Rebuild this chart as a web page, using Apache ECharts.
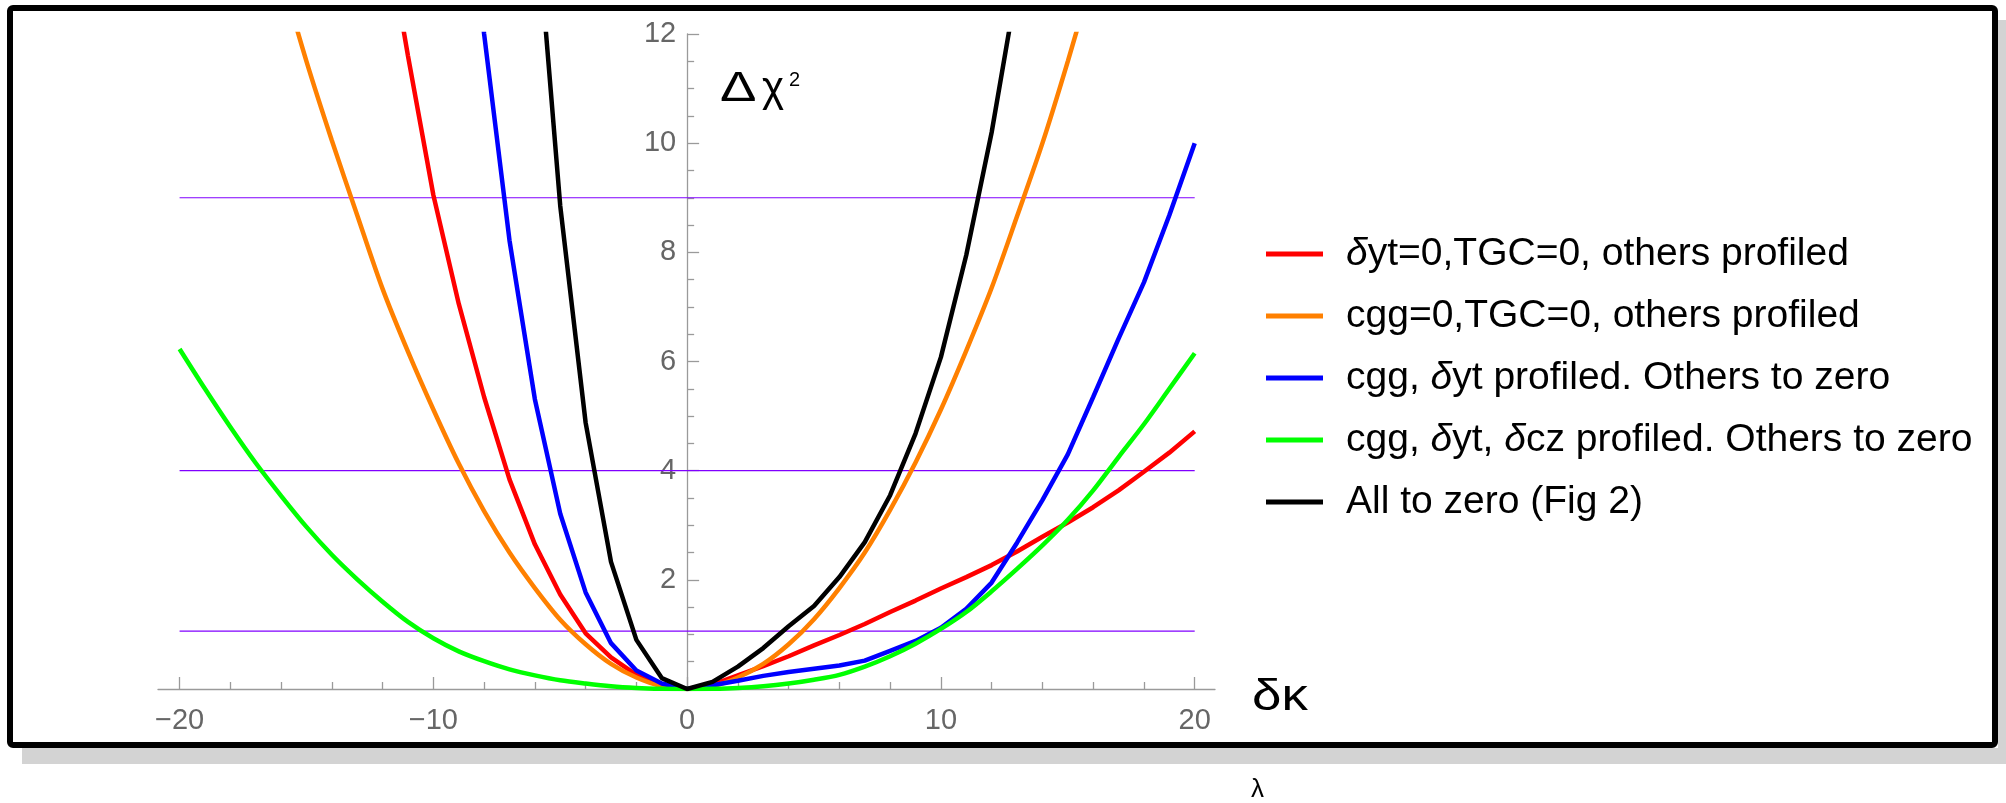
<!DOCTYPE html>
<html>
<head>
<meta charset="utf-8">
<script src="https://cdn.jsdelivr.net/npm/echarts@6/dist/echarts.min.js"></script>
<style>
  html, body { margin: 0; padding: 0; background: #fff; }
  #chart { width: 2006px; height: 803px; }
</style>
</head>
<body>
<div id="chart"></div>
<script>
// Δχ² profiles versus δκ
const seriesNames = [
    'δyt=0,TGC=0, others profiled',
    'cgg=0,TGC=0, others profiled',
    'cgg, δyt profiled. Others to zero',
    'cgg, δyt, δcz profiled. Others to zero',
    'All to zero (Fig 2)'
];
const seriesColors = ['#ff0000', '#ff8000', '#0000ff', '#00ff00', '#000000'];

const redX = [-12, -11, -10, -9, -8, -7, -6, -5, -4, -3, -2, -1, 0, 1, 2, 3, 4, 5, 6, 7, 8, 9, 10, 11, 12, 13, 14, 15, 16, 17, 18, 19, 20];
const redY = [14.3, 11.6, 9.05, 7.06, 5.35, 3.84, 2.65, 1.73, 1.02, 0.58, 0.26, 0.08, 0, 0.08, 0.25, 0.42, 0.6, 0.8, 0.99, 1.19, 1.41, 1.62, 1.84, 2.05, 2.27, 2.52, 2.79, 3.05, 3.33, 3.64, 3.98, 4.33, 4.72];

const orangeX = [-16, -15, -14, -13, -12, -11, -10, -9, -8, -7, -6, -5, -4, -3, -2, -1, 0, 1, 2, 3, 4, 5, 6, 7, 8, 9, 10, 11, 12, 13, 14, 15, 16];
const orangeY = [13.1, 11.5, 10.05, 8.68, 7.33, 6.18, 5.12, 4.13, 3.26, 2.5, 1.85, 1.27, 0.82, 0.46, 0.21, 0.05, 0, 0.05, 0.21, 0.46, 0.82, 1.28, 1.85, 2.5, 3.28, 4.15, 5.12, 6.2, 7.35, 8.66, 10.0, 11.5, 13.1];

const blueX = [-9, -8, -7, -6, -5, -4, -3, -2, -1, 0, 1, 2, 3, 4, 5, 6, 7, 8, 9, 10, 11, 12, 13, 14, 15, 16, 17, 18, 19, 20];
const blueY = [16.3, 12.0, 8.22, 5.31, 3.21, 1.77, 0.84, 0.34, 0.1, 0, 0.07, 0.15, 0.24, 0.31, 0.37, 0.43, 0.52, 0.7, 0.88, 1.12, 1.47, 1.95, 2.68, 3.46, 4.3, 5.35, 6.42, 7.45, 8.68, 10.0];

const greenX = [-20, -19, -18, -17, -16, -15, -14, -13, -12, -11, -10, -9, -8, -7, -6, -5, -4, -3, -2, -1, 0, 1, 2, 3, 4, 5, 6, 7, 8, 9, 10, 11, 12, 13, 14, 15, 16, 17, 18, 19, 20];
const greenY = [6.23, 5.5, 4.8, 4.14, 3.54, 2.97, 2.46, 2.01, 1.6, 1.23, 0.93, 0.69, 0.51, 0.36, 0.25, 0.16, 0.1, 0.05, 0.02, 0.005, 0, 0.005, 0.02, 0.05, 0.1, 0.17, 0.26, 0.41, 0.6, 0.83, 1.1, 1.41, 1.79, 2.2, 2.63, 3.1, 3.64, 4.25, 4.85, 5.5, 6.15];

const blackX = [-6, -5, -4, -3, -2, -1, 0, 1, 2, 3, 4, 5, 6, 7, 8, 9, 10, 11, 12, 13];
const blackY = [14.5, 8.85, 4.88, 2.33, 0.9, 0.2, 0, 0.13, 0.41, 0.75, 1.15, 1.52, 2.05, 2.69, 3.55, 4.68, 6.08, 7.95, 10.2, 12.9];

// horizontal reference levels, drawn from -20 to 20
const refLevels = [1.06, 4, 9];
const refRange = [-20, 20];

const xMajorTicks = [-20, -10, 0, 10, 20];
const xMinorTicks = [-18, -16, -14, -12, -8, -6, -4, -2, 2, 4, 6, 8, 12, 14, 16, 18];
const yMajorTicks = [2, 4, 6, 8, 10, 12];
const yMinorTicks = [0.5, 1, 1.5, 2.5, 3, 3.5, 4.5, 5, 5.5, 6.5, 7, 7.5, 8.5, 9, 9.5, 10.5, 11, 11.5];

const font = "'Liberation Sans', Arial, sans-serif";
const axisGray = '#9a9a9a';

const xMin = -20.85, xMax = 20.8;
const gridLeft = 158, gridWidth = 1057;
// the vertical axis sits at δκ = 0, inside the grid
const yAxisOffset = -(0 - xMin) / (xMax - xMin) * gridWidth;

const pairs = (xs, ys) => xs.map((x, i) => [x, ys[i]]);
const curves = [
    { x: redX, y: redY, smooth: false },
    { x: orangeX, y: orangeY, smooth: 0.3 },
    { x: blueX, y: blueY, smooth: false },
    { x: greenX, y: greenY, smooth: 0.3 },
    { x: blackX, y: blackY, smooth: false }
];

const series = [];
refLevels.forEach(level => {
    series.push({
        type: 'line',
        data: refRange.map(x => [x, level]),
        symbol: 'none',
        silent: true,
        lineStyle: { color: '#8000ff', width: 1.2 },
        z: 1
    });
});
curves.forEach((c, i) => {
    series.push({
        name: seriesNames[i],
        type: 'line',
        data: pairs(c.x, c.y),
        symbol: 'none',
        smooth: c.smooth,
        clip: true,
        color: seriesColors[i],
        lineStyle: { color: seriesColors[i], width: 4.5 },
        z: 3 + i
    });
});

const option = {
    animation: false,
    backgroundColor: '#fff',
    grid: { left: gridLeft, top: 34, width: gridWidth, height: 655, containLabel: false },
    xAxis: [{
        type: 'value', min: xMin, max: xMax, position: 'bottom',
        splitLine: { show: false },
        axisLine: { onZero: false, lineStyle: { color: axisGray, width: 1.3 } },
        axisTick: { customValues: xMajorTicks, inside: true, length: 12, lineStyle: { color: axisGray, width: 1.3 } },
        axisLabel: {
            customValues: xMajorTicks, margin: 17, fontSize: 29, fontFamily: font, color: '#666',
            formatter: v => String(v).replace('-', '\u2212')
        }
    }, {
        type: 'value', min: xMin, max: xMax, position: 'bottom',
        splitLine: { show: false },
        axisLine: { show: false, onZero: false },
        axisTick: { customValues: xMinorTicks, inside: true, length: 7, lineStyle: { color: axisGray, width: 1.3 } },
        axisLabel: { show: false }
    }],
    yAxis: [{
        type: 'value', min: 0, max: 12, position: 'left', offset: yAxisOffset,
        splitLine: { show: false },
        axisLine: { onZero: false, lineStyle: { color: axisGray, width: 1.3 } },
        axisTick: { customValues: yMajorTicks, inside: true, length: 12, lineStyle: { color: axisGray, width: 1.3 } },
        axisLabel: { customValues: yMajorTicks, margin: 11, fontSize: 29, fontFamily: font, color: '#666' }
    }, {
        type: 'value', min: 0, max: 12, position: 'left', offset: yAxisOffset,
        splitLine: { show: false },
        axisLine: { show: false, onZero: false },
        axisTick: { customValues: yMinorTicks, inside: true, length: 7, lineStyle: { color: axisGray, width: 1.3 } },
        axisLabel: { show: false }
    }],
    legend: {
        data: seriesNames,
        orient: 'vertical',
        left: 1261, top: 229,
        icon: 'rect',
        itemWidth: 57, itemHeight: 5,
        itemGap: 22,
        selectedMode: false,
        formatter: name => name.replace(/δ/g, '{i|δ}'),
        textStyle: {
            fontSize: 39, fontFamily: font, color: '#000', lineHeight: 40,
            padding: [0, 0, 0, 18],
            rich: { i: { fontStyle: 'italic', fontSize: 39, fontFamily: font, color: '#000', lineHeight: 40 } }
        }
    },
    graphic: [
        // drop shadow of the frame
        { type: 'rect', shape: { x: 22, y: 748, width: 1990, height: 16 }, style: { fill: '#d3d3d3' }, silent: true },
        { type: 'rect', shape: { x: 1998, y: 20, width: 10, height: 744 }, style: { fill: '#d3d3d3' }, silent: true },
        // frame
        { type: 'rect', shape: { x: 10, y: 8, width: 1985, height: 737, r: 3 }, style: { fill: null, stroke: '#000', lineWidth: 6 }, silent: true },
        // axis names
        { type: 'text', x: 720, y: 68, scaleX: 1.3, style: { text: 'Δ', font: '42px ' + font, fill: '#000', verticalAlign: 'top' }, silent: true },
        { type: 'text', x: 762, y: 68, style: { text: 'χ', font: '42px ' + font, fill: '#000', verticalAlign: 'top' }, silent: true },
        { type: 'text', x: 789, y: 70, style: { text: '2', font: '20px ' + font, fill: '#000', verticalAlign: 'top' }, silent: true },
        { type: 'text', x: 1252, y: 676, scaleX: 1.2, style: { text: 'δκ', font: '44px ' + font, fill: '#000', verticalAlign: 'top' }, silent: true },
        { type: 'text', x: 1251, y: 777, style: { text: 'λ', font: '26px ' + font, fill: '#000', verticalAlign: 'top' }, silent: true }
    ],
    series: series
};

echarts.init(document.getElementById('chart')).setOption(option);
</script>
</body>
</html>
